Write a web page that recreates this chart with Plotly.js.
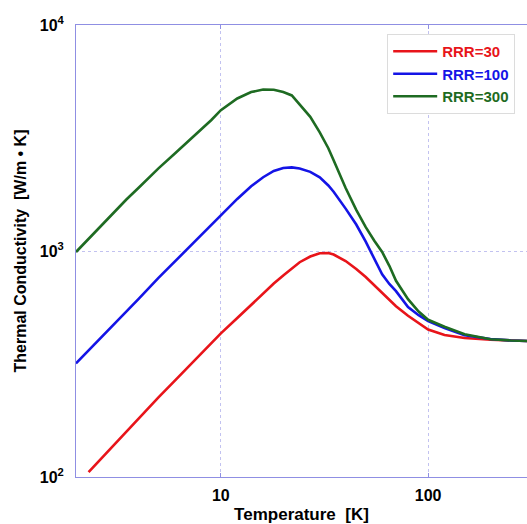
<!DOCTYPE html>
<html>
<head>
<meta charset="utf-8">
<script src="https://cdn.plot.ly/plotly-3.0.1.min.js"></script>
<style>html,body{margin:0;padding:0;background:#fff;}#chart{width:527px;height:524px;}</style>
</head>
<body>
<div id="chart"></div>
<script>
// Temperature grids [K]
const tempRed = [2.3, 2.5, 3, 3.5, 4, 5, 6, 7, 8, 9, 10, 12, 14, 16, 18, 20, 22, 24, 27, 30, 33, 35, 40, 45, 50, 55, 60, 65, 70, 80, 90, 100, 120, 150, 200, 250, 300];
const tempGrid = [2, 2.5, 3, 3.5, 4, 5, 6, 7, 8, 9, 10, 12, 14, 16, 18, 20, 22, 24, 27, 30, 33, 35, 40, 45, 50, 55, 60, 65, 70, 80, 90, 100, 120, 150, 200, 250, 300];

// Thermal conductivity [W/m·K]
const rrr30 = [105, 114, 137, 159, 181, 225, 267, 308, 350, 390, 432, 505, 578, 650, 718, 780, 838, 892, 945, 978, 980, 965, 903, 833, 767, 705, 650, 605, 570, 517, 480, 449, 425, 412, 405, 401, 400];
const rrr100 = [318, 392, 466, 540, 612, 760, 900, 1035, 1165, 1300, 1435, 1700, 1935, 2120, 2260, 2330, 2345, 2320, 2240, 2120, 1950, 1830, 1540, 1310, 1100, 930, 788, 715, 664, 565, 520, 490, 456, 424, 408, 402, 400];
const rrr300 = [990, 1225, 1460, 1690, 1900, 2320, 2700, 3070, 3440, 3800, 4200, 4730, 5050, 5180, 5170, 5050, 4880, 4450, 3925, 3350, 2850, 2520, 1900, 1520, 1275, 1110, 990, 860, 738, 612, 540, 496, 462, 428, 407, 402, 400];

const seriesNames = ['RRR=30', 'RRR=100', 'RRR=300'];
const xTickVals = [10, 100];
const xTickText = ['10', '100'];
const yTickVals = [100, 1000, 10000];
const yTickText = ['10<sup>2</sup>', '10<sup>3</sup>', '10<sup>4</sup>'];

const colors = ['#e8141a', '#1414e6', '#1e6b22'];
const xs = [tempRed, tempGrid, tempGrid];
const ys = [rrr30, rrr100, rrr300];

const traces = ys.map((y, i) => ({
  x: xs[i], y: y, type: 'scatter', mode: 'lines',
  name: '<span style="color:' + colors[i] + '">' + seriesNames[i] + '</span>',
  line: {color: colors[i], width: 2.6}
}));

const fontFam = 'Liberation Sans, Arial, sans-serif';
const axisLine = '#8f8fe3';
const gridCol = '#c2c2f0';

const layout = {
  width: 527, height: 524,
  margin: {l: 76, r: 0, t: 25, b: 47},
  paper_bgcolor: '#fff', plot_bgcolor: '#fff',
  showlegend: true,
  font: {family: fontFam, color: '#000'},
  xaxis: {
    type: 'log',
    range: [Math.log10(2), Math.log10(300)],
    tickvals: xTickVals, ticktext: xTickText,
    ticks: 'inside', ticklen: 4, tickcolor: axisLine,
    showline: true, linecolor: axisLine, linewidth: 1, mirror: 'ticks',
    showgrid: true, gridcolor: gridCol, griddash: 'dot', gridwidth: 1,
    zeroline: false,
    tickfont: {family: fontFam, size: 16, weight: 'bold', color: '#000'},
    ticklabelstandoff: 4,
    title: {text: 'Temperature\u00a0 [K]', font: {family: fontFam, size: 17, weight: 'bold', color: '#000'}, standoff: 8}
  },
  yaxis: {
    type: 'log',
    range: [2, 4],
    tickvals: yTickVals, ticktext: yTickText,
    ticks: '',
    showline: true, linecolor: axisLine, linewidth: 1,
    showgrid: true, gridcolor: gridCol, griddash: 'dot', gridwidth: 1,
    zeroline: false,
    tickfont: {family: fontFam, size: 16, weight: 'bold', color: '#000'},
    ticklabelstandoff: 8,
    title: {text: 'Thermal Conductivity\u00a0 [W/m \u2022 K]', font: {family: fontFam, size: 16, weight: 'bold', color: '#000'}, standoff: 9}
  },
  legend: {
    x: 0.69, y: 0.98, xanchor: 'left', yanchor: 'top',
    bgcolor: '#fff', bordercolor: '#dcdcdc', borderwidth: 1,
    font: {family: fontFam, size: 15, weight: 'bold'},
    itemwidth: 44, tracegroupgap: 0
  }
};

Plotly.newPlot('chart', traces, layout, {displayModeBar: false, staticPlot: true});
</script>
</body>
</html>
